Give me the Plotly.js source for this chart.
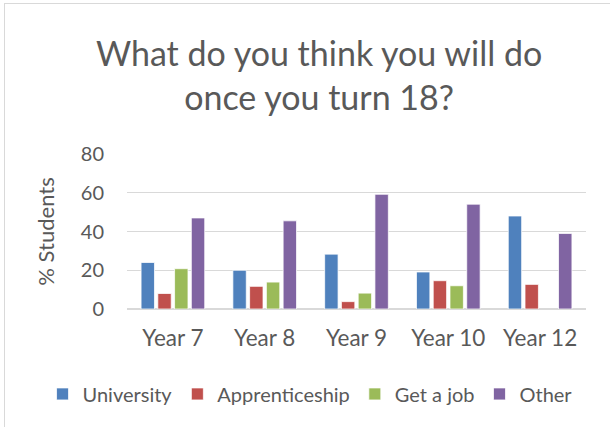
<!DOCTYPE html>
<html>
<head>
<meta charset="utf-8">
<script src="https://cdn.plot.ly/plotly-3.0.1.min.js"></script>
<style>
  html, body { margin: 0; padding: 0; background: #ffffff; width: 610px; height: 427px; overflow: hidden; }
  #chart { position: absolute; left: 4px; top: 3px; width: 606px; height: 424px;
           border-top: 1px solid #D9D9D9; border-left: 1px solid #D9D9D9; box-sizing: border-box; }
</style>
</head>
<body>
<div id="chart"></div>
<script>
const categories = ["Year 7", "Year 8", "Year 9", "Year 10", "Year 12"];
const university = [24, 20, 28.3, 19.1, 48];
const apprenticeship = [8, 11.7, 3.8, 14.6, 12.7];
const getAJob = [20.8, 13.9, 8.2, 12, null];
const other = [47, 45.5, 59.2, 54.1, 39];
const tickValues = [0, 20, 40, 60, 80];

const seriesNames = ["University", "Apprenticeship", "Get a job", "Other"];
const seriesData = [university, apprenticeship, getAJob, other];
const seriesColors = ["#4F81BD", "#C0504D", "#9BBB59", "#8064A2"];

const font = "Lato, 'Noto Sans', sans-serif";
const textColor = "#595959";

const traces = seriesData.map((vals, i) => ({
  type: "bar",
  name: seriesNames[i],
  x: categories,
  y: vals,
  marker: { color: seriesColors[i], line: { color: "#ffffff", width: 0.75 } },
  hoverinfo: "x+y+name"
}));

const layout = {
  width: 604,
  height: 423,
  margin: { l: 122, r: 23, t: 150, b: 118, pad: 0 },
  paper_bgcolor: "#ffffff",
  plot_bgcolor: "#ffffff",
  font: { family: font, color: textColor, size: 20 },
  title: {
    text: "What do you think you will do<br>once you turn 18?",
    font: { family: font, size: 34, color: textColor },
    x: 0.52, xref: "container", xanchor: "center",
    y: 0.853, yref: "container", yanchor: "top"
  },
  barmode: "group",
  bargap: 0.27,
  bargroupgap: 0.2,
  xaxis: {
    type: "category",
    showgrid: false,
    showline: false,
    zeroline: false,
    ticks: "",
    ticklabelstandoff: 13,
    tickfont: { family: font, size: 22.5, color: textColor }
  },
  yaxis: {
    range: [0, 80],
    tickvals: tickValues,
    ticktext: tickValues.map(String),
    showgrid: true,
    gridcolor: "#D9D9D9",
    gridwidth: 1.3,
    zeroline: true,
    zerolinecolor: "#D9D9D9",
    zerolinewidth: 1.3,
    showline: false,
    ticks: "",
    ticklabelstandoff: 22,
    tickfont: { family: font, size: 20, color: textColor },
    title: { text: "% Students", font: { family: font, size: 22, color: textColor }, standoff: 20 }
  },
  showlegend: true,
  legend: {
    orientation: "h",
    x: -0.184, xref: "paper", xanchor: "left",
    y: -0.548, yref: "paper", yanchor: "middle",
    font: { family: font, size: 20, color: textColor },
    itemwidth: 30,
    traceorder: "normal"
  }
};

Plotly.newPlot("chart", traces, layout, { displayModeBar: false, staticPlot: true });
</script>
</body>
</html>
